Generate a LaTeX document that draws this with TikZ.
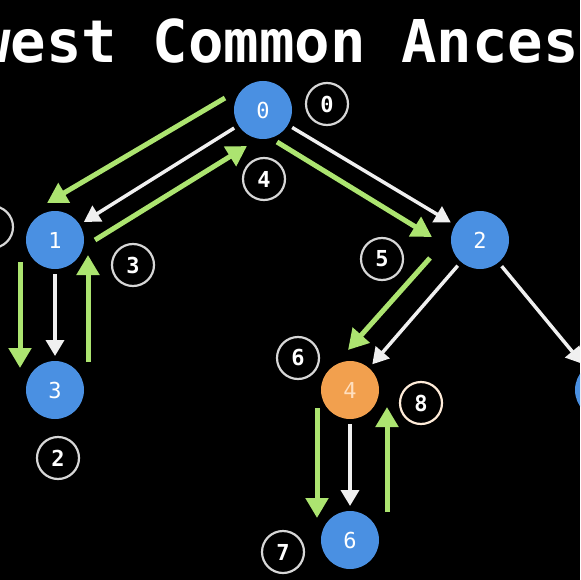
\documentclass[tikz,border=0pt]{standalone}
\usepackage{fontspec}
\usetikzlibrary{arrows.meta,calc}
\newfontfamily\codefont{DejaVu Sans Mono}
\definecolor{nodeblue}{RGB}{74,144,226}
\definecolor{nodeorange}{RGB}{242,160,78}
\definecolor{walkgreen}{RGB}{172,228,112}
\definecolor{edgewhite}{RGB}{240,240,240}
\definecolor{markgray}{RGB}{215,215,215}
\tikzset{
    vertex/.style={circle, fill=nodeblue, minimum size=58pt, inner sep=0pt, outer sep=0pt,
        text=white, font=\codefont\fontsize{22}{22}\selectfont},
    found/.style={vertex, fill=nodeorange, text=orange!25!white},
    stepmark/.style={circle, draw=markgray, line width=2.2pt, minimum size=42pt, inner sep=0pt,
        text=white, font=\codefont\bfseries\fontsize{22}{22}\selectfont},
    treeedge/.style={draw=edgewhite, line width=3.5pt, -{Triangle[length=16pt,width=18pt]},
        shorten <=5pt, shorten >=5pt},
    walk/.style={draw=walkgreen, line width=5pt, -{Triangle[length=20pt,width=22pt]}}
}
\begin{document}
\begin{tikzpicture}[x=1pt, y=-1pt]
    \useasboundingbox (0,0) rectangle (580,580);
    \clip (0,0) rectangle (580,580);
    \fill[black] (0,0) rectangle (580,580);

    % title
    \node[anchor=base west, inner sep=0pt, text=white,
        font=\codefont\bfseries\fontsize{59}{59}\selectfont] (title) at (-25,63) {west Common Ancest};

    % tree
    \node[vertex] (n0) at (263,110) {0};
    \node[vertex] (n1) at (55,240) {1};
    \node[vertex] (n2) at (480,240) {2};
    \node[vertex] (n3) at (55,390) {3};
    \node[found] (n4) at (350,390) {4};
    \node[vertex] (n5) at (604,390) {};
    \node[vertex] (n6) at (350,540) {6};

    \draw[treeedge] (n0) -- (n1);
    \draw[treeedge] (n0) -- (n2);
    \draw[treeedge] (n1) -- (n3);
    \draw[treeedge] (n2) -- (n4);
    \draw[treeedge] (n2) -- (n5);
    \draw[treeedge] (n4) -- (n6);

    % walk order
    \draw[walk] ($(n0)+(-38,-12)$) -- ($(n1)+(-8,-37)$);
    \draw[walk] ($(n1)+(-35,22)$) -- ($(n3)+(-35,-22)$);
    \draw[walk] ($(n3)+(33,-28)$) -- ($(n1)+(33,15)$);
    \draw[walk] ($(n1)+(40,0)$) -- ($(n0)+(-16,36)$);
    \draw[walk] ($(n0)+(14,32)$) -- ($(n2)+(-48,-3)$);
    \draw[walk] ($(n2)+(-50,18)$) -- ($(n4)+(-2,-40)$);
    \draw[walk] ($(n4)+(-33,18)$) -- ($(n6)+(-33,-22)$);
    \draw[walk] ($(n6)+(37,-28)$) -- ($(n4)+(37,17)$);

    % step marks
    \node[stepmark] (s0) at (327,104) {0};
    \node[stepmark] (s1) at (-8,227) {};
    \node[stepmark] (s2) at (58,458) {2};
    \node[stepmark] (s3) at (133,265) {3};
    \node[stepmark] (s4) at (264,179) {4};
    \node[stepmark] (s5) at (382,259) {5};
    \node[stepmark] (s6) at (298,358) {6};
    \node[stepmark] (s7) at (283,552) {7};
    \node[stepmark, draw=orange!15!white] (s8) at (421,403) {8};
\end{tikzpicture}
\end{document}
